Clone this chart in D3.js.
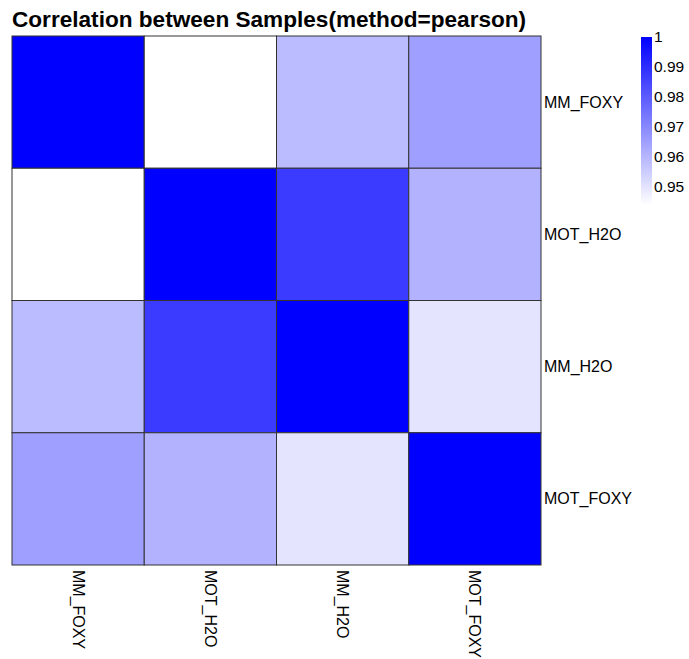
<!DOCTYPE html>
<html>
<head>
<meta charset="utf-8">
<script src="https://cdn.jsdelivr.net/npm/d3@7"></script>
<style>
  body { margin: 0; background: #fff; }
  text { font-family: "Liberation Sans", Arial, sans-serif; }
</style>
</head>
<body>
<div id="chart"></div>
<script>
// samples, in display order
var samples = ["MM_FOXY", "MOT_H2O", "MM_H2O", "MOT_FOXY"];

// pearson correlation matrix (row i, col j)
var corr = [
    [1.000, 0.944, 0.959, 0.965],
    [0.944, 1.000, 0.987, 0.961],
    [0.959, 0.987, 1.000, 0.950],
    [0.965, 0.961, 0.950, 1.000]
];

var legendTicks = [0.95, 0.96, 0.97, 0.98, 0.99, 1];
var colorMin = 0.944;

var width = 689;
var height = 659;

var svg = d3.select("#chart")
    .append("svg")
    .attr("width", width)
    .attr("height", height);

svg.append("text")
    .attr("x", 12)
    .attr("y", 27)
    .style("font-size", "22.6px")
    .style("font-weight", "bold")
    .text("Correlation between Samples(method=pearson)");

var x = d3.scaleBand().domain(samples).range([12, 541]);
var y = d3.scaleBand().domain(samples).range([36, 565]);

var color = d3.scaleLinear()
    .domain([colorMin, 1])
    .range(["#ffffff", "#0000ff"]);

var cells = [];
corr.forEach(function(row, i) {
    row.forEach(function(v, j) {
        cells.push({ r: samples[i], c: samples[j], v: v });
    });
});

svg.append("g")
    .selectAll("rect")
    .data(cells)
    .enter().append("rect")
    .attr("x", function(d) { return x(d.c); })
    .attr("y", function(d) { return y(d.r); })
    .attr("width", x.bandwidth())
    .attr("height", y.bandwidth())
    .style("fill", function(d) { return color(d.v); })
    .style("stroke", "#333")
    .style("stroke-width", 1);

// row labels on the right
svg.append("g")
    .selectAll("text")
    .data(samples)
    .enter().append("text")
    .attr("x", 544)
    .attr("y", function(d) { return y(d) + y.bandwidth() / 2; })
    .attr("dy", "0.35em")
    .style("font-size", "16px")
    .text(function(d) { return d; });

// column labels at the bottom, rotated
svg.append("g")
    .selectAll("text")
    .data(samples)
    .enter().append("text")
    .attr("transform", function(d) {
        return "translate(" + (x(d) + x.bandwidth() / 2) + ",570)rotate(90)";
    })
    .attr("dy", "0.35em")
    .style("font-size", "16px")
    .text(function(d) { return d; });

// legend
var ly = d3.scaleLinear().domain([colorMin, 1]).range([205, 37]);

var defs = svg.append("defs");
var grad = defs.append("linearGradient")
    .attr("id", "lg")
    .attr("x1", "0").attr("y1", "1")
    .attr("x2", "0").attr("y2", "0");
grad.append("stop").attr("offset", "0%").attr("stop-color", color(colorMin));
grad.append("stop").attr("offset", "100%").attr("stop-color", color(1));

svg.append("rect")
    .attr("x", 641)
    .attr("y", ly(1))
    .attr("width", 11)
    .attr("height", ly(colorMin) - ly(1))
    .style("fill", "url(#lg)");

svg.append("g")
    .selectAll("text")
    .data(legendTicks)
    .enter().append("text")
    .attr("x", 654)
    .attr("y", function(d) { return ly(d); })
    .attr("dy", "0.35em")
    .style("font-size", "15.5px")
    .text(function(d) { return d; });
</script>
</body>
</html>
